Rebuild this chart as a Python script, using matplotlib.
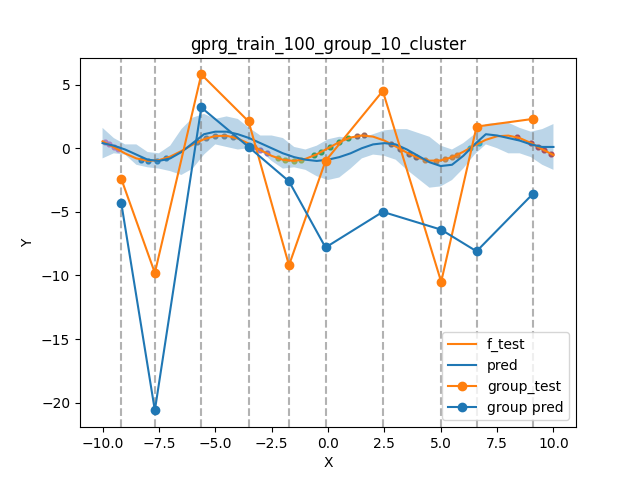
import numpy as np
from matplotlib import pyplot as plt

# smooth test function and model prediction on a grid
grid_x = [-10, -9.5, -9, -8.5, -8, -7.5, -7, -6.5, -6, -5.5, -5, -4.5, -4, -3.5, -3, -2.5, -2, -1.5, -1, -0.5,
          0, 0.5, 1, 1.5, 2, 2.5, 3, 3.5, 4, 4.5, 5, 5.5, 6, 6.5, 7, 7.5, 8, 8.5, 9, 9.5, 10]
f_test = [0.54, 0.08, -0.41, -0.80, -0.99, -0.94, -0.66, -0.22, 0.28, 0.71, 0.96, 0.98, 0.76, 0.35, -0.14, -0.60, -0.91,
          -1.0, -0.84, -0.48, 0.0, 0.48, 0.84, 1.0, 0.91, 0.60, 0.14, -0.35, -0.76, -0.98, -0.96, -0.71, -0.28, 0.22,
          0.66, 0.94, 0.99, 0.80, 0.41, -0.08, -0.54]
pred = [0.4, 0.2, -0.1, -0.5, -0.9, -1.0, -0.8, -0.3, 0.4, 1.1, 1.3, 1.3, 1.1, 0.8, 0.4, 0.0, -0.4, -0.7, -0.9, -1.0,
        -0.9, -0.7, -0.4, 0.0, 0.3, 0.4, 0.3, -0.1, -0.6, -1.1, -1.4, -1.3, -0.6, 0.3, 1.1, 1.0, 0.8, 0.6, 0.3, 0.1, 0.1]
pred_std = [0.6, 0.3, 0.2, 0.4, 0.3, 0.3, 0.5, 0.9, 1.0, 0.8, 0.5, 0.6, 0.6, 0.4, 0.3, 0.5, 0.6, 0.4, 0.4, 0.6,
            0.8, 0.8, 0.6, 0.4, 0.4, 0.5, 0.6, 0.8, 0.9, 1.0, 0.8, 0.6, 0.5, 0.4, 0.4, 0.5, 0.6, 0.5, 0.5, 0.7, 0.9]

# training points per cluster
train_x = [[-9.9, -9.7, -9.5, -9.3], [-8.3, -8.0, -7.6, -7.2], [-5.8, -5.4, -5.0, -4.6, -4.2],
           [-3.3, -3.0, -2.7], [-2.2, -1.9, -1.5, -1.2], [-0.6, -0.3, 0.1, 0.5, 0.9],
           [1.3, 1.6, 2.8, 3.2, 3.6, 3.9], [4.3, 4.8, 5.2, 5.5, 5.7], [6.3, 6.7], [8.4, 9.0, 9.3, 9.6, 9.9]]
train_y = [[0.5, 0.3, 0.1, -0.1], [-0.9, -1.0, -0.97, -0.8], [0.5, 0.8, 0.96, 0.99, 0.87],
           [0.1, -0.14, -0.4], [-0.8, -0.95, -1.0, -0.93], [-0.56, -0.3, 0.1, 0.48, 0.78],
           [0.96, 1.0, 0.33, -0.06, -0.44, -0.69], [-0.92, -0.98, -0.88, -0.7, -0.55], [0.02, 0.4],
           [0.85, 0.41, 0.13, -0.17, -0.46]]
cluster_colors = ['tab:pink', 'tab:blue', 'tab:gray', 'tab:purple', 'tab:olive', 'tab:green',
                  'tab:brown', 'tab:orange', 'tab:cyan', 'tab:red']

group_x = [-9.17, -7.68, -5.62, -3.52, -1.73, -0.11, 2.43, 5.02, 6.59, 9.08]
group_test = [-2.4, -9.8, 5.8, 2.1, -9.2, -1.0, 4.5, -10.5, 1.7, 2.3]
group_pred = [-4.3, -20.6, 3.2, 0.1, -2.6, -7.8, -5.0, -6.4, -8.1, -3.6]

gx = np.array(grid_x)
p = np.array(pred)
s = np.array(pred_std)

plt.figure(figsize=(6.4, 4.8))
for xs, ys, c in zip(train_x, train_y, cluster_colors):
    plt.scatter(xs, ys, s=12, color=c, alpha=0.8)
for x in group_x:
    plt.axvline(x, color='gray', linestyle='--', alpha=0.6)
plt.fill_between(gx, p - 2 * s, p + 2 * s, alpha=0.3)
plt.plot(gx, f_test, color='tab:orange', label='f_test')
plt.plot(gx, p, color='tab:blue', label='pred')
plt.plot(group_x, group_test, 'o-', color='tab:orange', label='group_test')
plt.plot(group_x, group_pred, 'o-', color='tab:blue', label='group pred')
plt.xlabel('X')
plt.ylabel('Y')
plt.title('gprg_train_100_group_10_cluster')
plt.legend(loc='lower right')
plt.savefig('out.png', dpi=100)
